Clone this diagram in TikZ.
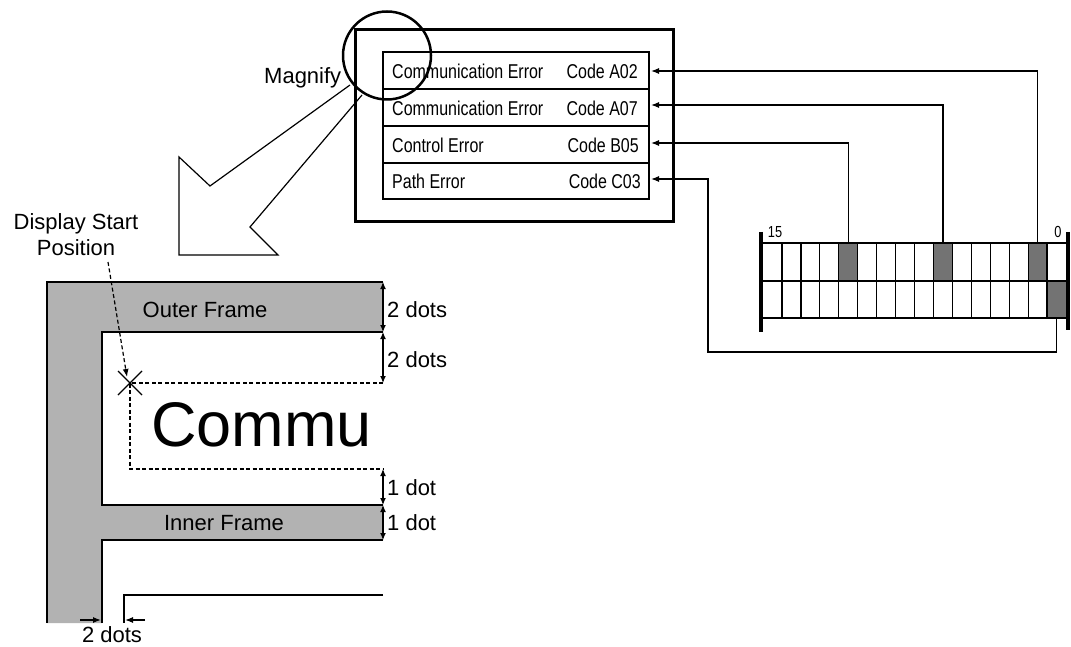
\documentclass[tikz,border=0pt]{standalone}
\usepackage{fontspec}
\setmainfont{Liberation Sans}
\newfontfamily\narrowfont[FakeStretch=0.8]{Liberation Sans}
\usetikzlibrary{arrows.meta}
\begin{document}
\begin{tikzpicture}[x=1pt,y=-1pt,
  lbl/.style={font=\fontsize{22}{26}\selectfont, inner sep=0pt},
  lst/.style={font=\narrowfont\fontsize{20}{22}\selectfont, inner sep=0pt},
  regnum/.style={font=\narrowfont\fontsize{16}{17}\selectfont, inner sep=0pt},
  conn/.style={line width=1.2pt, -{Latex[length=8pt,width=6pt]}},
  dimarrow/.style={line width=1.2pt, {Latex[length=7pt,width=6pt]}-{Latex[length=7pt,width=6pt]}},
  frameline/.style={line width=1.5pt},
  dsh/.style={dash pattern=on 4pt off 2.5pt, line width=1.2pt},
  shadefill/.style={fill=black!30},
  cellfill/.style={fill=black!55}]
\useasboundingbox (0,0) rectangle (1071,647);

% ---------- magnified frame ----------
\fill[shadefill] (47,282) -- (383,282) -- (383,332) -- (102,332) -- (102,505) -- (383,505)
  -- (383,540) -- (102,540) -- (102,623) -- (47,623) -- cycle;
\draw[frameline] (47,623) -- (47,282) -- (383,282);
\draw[frameline] (383,332) -- (102,332) -- (102,505) -- (383,505);
\draw[frameline] (383,540) -- (102,540) -- (102,623);

\node[lbl] (outerlbl) at (205,310) {Outer Frame};
\node[lbl] (innerlbl) at (224,523) {Inner Frame};

\coordinate (d0) at (383,282);
\coordinate (d1) at (383,332);
\coordinate (d2) at (383,383);
\coordinate (d3) at (383,469);
\coordinate (d4) at (383,505);
\coordinate (d5) at (383,540);
\draw[dimarrow] (d0) -- (d1);
\draw[dimarrow] (d1) -- (d2);
\draw[dimarrow] (d3) -- (d4);
\draw[dimarrow] (d4) -- (d5);
\node[lbl, anchor=west] (dim1) at (387,310) {2 dots};
\node[lbl, anchor=west] (dim2) at (387,360) {2 dots};
\node[lbl, anchor=west] (dim3) at (387,488) {1 dot};
\node[lbl, anchor=west] (dim4) at (387,523) {1 dot};

\coordinate (sp) at (130,383);
\coordinate (spb) at (130,469);
\draw[dsh] (d2) -- (sp) -- (spb) -- (d3);
\draw[line width=1.4pt] (118,371) -- (142,395) (118,395) -- (142,371);

\node[font=\fontsize{63}{70}\selectfont, inner sep=0pt, anchor=base west] (commu) at (151,446) {Commu};

\node[lbl, align=center] (dsplbl) at (76,235) {Display Start\\Position};
\coordinate (dspfrom) at (108,262);
\coordinate (dspto) at (127,377);
\draw[dsh, -{Latex[length=8pt,width=6pt]}] (dspfrom) -- (dspto);

\coordinate (bl0) at (383,595);
\coordinate (bl1) at (124,595);
\coordinate (bl2) at (124,623);
\draw[frameline] (bl0) -- (bl1) -- (bl2);
\coordinate (ar1s) at (80,620);
\coordinate (ar1e) at (101,620);
\coordinate (ar2s) at (145,620);
\coordinate (ar2e) at (125,620);
\draw[conn] (ar1s) -- (ar1e);
\draw[conn] (ar2s) -- (ar2e);
\node[lbl] (dim5) at (112,635) {2 dots};

% ---------- magnify arrow ----------
\node[lbl, anchor=west] (maglbl) at (264,78) {Magnify};
\draw[line width=1.2pt] (350,85) -- (210,186) -- (179,157) -- (179,255) -- (278,255) -- (250,227) -- (362,95);

% ---------- display ----------
\draw[line width=3pt] (355,30) rectangle (673,222);
\draw[line width=2.5pt] (383,52) rectangle (649,199);
\draw[line width=1.5pt] (383,89) -- (649,89) (383,126) -- (649,126) (383,163) -- (649,163);
\node[lst, anchor=west] (t1) at (392,71) {Communication Error};
\node[lst, anchor=west] (t2) at (392,108) {Communication Error};
\node[lst, anchor=west] (t3) at (392,145) {Control Error};
\node[lst, anchor=west] (t4) at (392,181) {Path Error};
\node[lst, anchor=east] (c1) at (638,71) {Code A02};
\node[lst, anchor=east] (c2) at (638,108) {Code A07};
\node[lst, anchor=east] (c3) at (639,145) {Code B05};
\node[lst, anchor=east] (c4) at (641,181) {Code C03};
\draw[line width=2.5pt] (387,55.5) circle[radius=44pt];

% ---------- register ----------
\fill[cellfill] (838.8,243) rectangle (857.7,281);
\fill[cellfill] (933.5,243) rectangle (952.4,281);
\fill[cellfill] (1028.2,243) rectangle (1047.2,281);
\fill[cellfill] (1047.2,281) rectangle (1066,318);
\draw[line width=1.3pt] (763,243) -- (1066,243) (763,281) -- (1066,281) (763,318) -- (1066,318);
\foreach \i in {1,...,15} {
  \draw[line width=1.3pt] ({763+18.94*\i},243) -- ({763+18.94*\i},318);
}
\draw[line width=3.5pt] (761,232) -- (761,332);
\draw[line width=3.5pt] (1068,232) -- (1068,330);
\node[regnum] (n15) at (775,232) {15};
\node[regnum] (n0) at (1058,232) {0};

\coordinate (b14) at (1037.7,243);
\coordinate (b9) at (943,243);
\coordinate (b4) at (848.2,243);
\coordinate (b15) at (1056.6,318);
\coordinate (in1) at (651,71);
\coordinate (in2) at (651,105);
\coordinate (in3) at (651,143);
\coordinate (in4) at (651,179);
\draw[conn] (b14) |- (in1);
\draw[conn] (b9) |- (in2);
\draw[conn] (b4) |- (in3);
\draw[conn] (b15) -- (1056.6,352) -- (708,352) -- (708,179) -- (in4);
\end{tikzpicture}
\end{document}
